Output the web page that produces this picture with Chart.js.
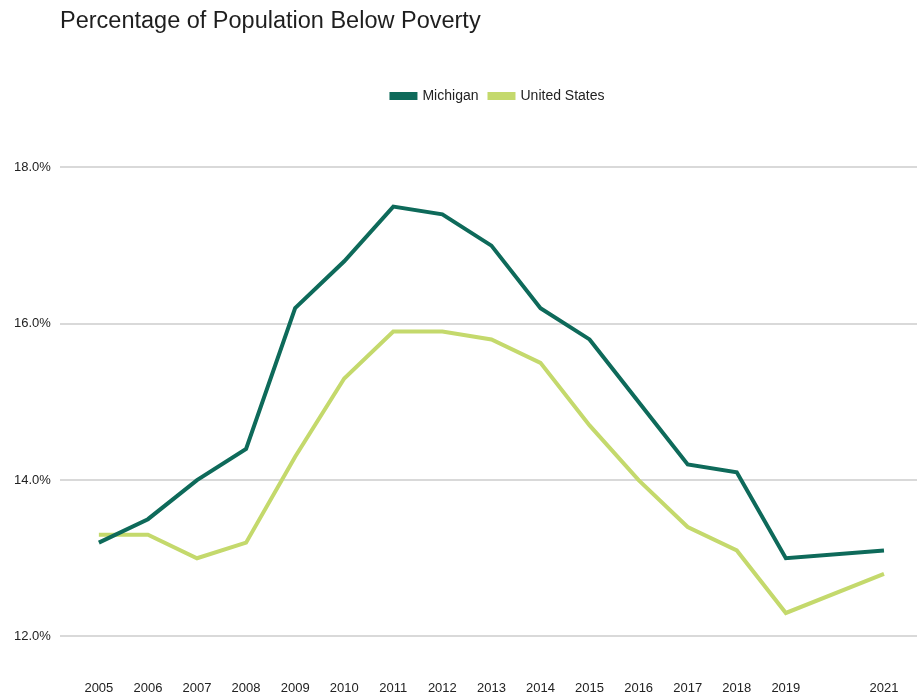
<!DOCTYPE html>
<html>
<head>
<meta charset="utf-8">
<script src="https://cdn.jsdelivr.net/npm/chart.js@4"></script>
<style>
  html, body { margin: 0; padding: 0; background: #fff; }
  #wrap { position: relative; width: 917px; height: 698px; }
  #title {
    position: absolute; left: 60px; top: 7px;
    font-family: "Liberation Sans", Arial, sans-serif;
    font-size: 23.5px; color: #1e1e1e;
  }
</style>
</head>
<body>
<div id="wrap">
  <div id="title">Percentage of Population Below Poverty</div>
  <canvas id="povertyChart" width="917" height="698"></canvas>
</div>
<script>
const years = [2005, 2006, 2007, 2008, 2009, 2010, 2011, 2012, 2013, 2014, 2015, 2016, 2017, 2018, 2019, 2021];
const michigan = [13.2, 13.5, 14.0, 14.4, 16.2, 16.8, 17.5, 17.4, 17.0, 16.2, 15.8, 15.0, 14.2, 14.1, 13.0, 13.1];
const unitedStates = [13.3, 13.3, 13.0, 13.2, 14.3, 15.3, 15.9, 15.9, 15.8, 15.5, 14.7, 14.0, 13.4, 13.1, 12.3, 12.8];
const yTicks = [12, 14, 16, 18];

const toPoints = vals => years.map((y, i) => ({ x: y, y: vals[i] }));
const font = { family: '"Liberation Sans", Arial, sans-serif', size: 13 };

// the legend sits a bit right of the canvas centre in the original
const legendShift = {
  id: 'legendShift',
  afterLayout(chart) {
    chart.legend.left += 37;
    chart.legend.right += 37;
  }
};

const ctx = document.getElementById('povertyChart');

new Chart(ctx, {
  type: 'line',
  data: {
    datasets: [{
      label: 'Michigan',
      data: toPoints(michigan),
      borderColor: '#0e6a5a',
      backgroundColor: '#0e6a5a',
      borderWidth: 4,
      pointRadius: 0,
      tension: 0
    }, {
      label: 'United States',
      data: toPoints(unitedStates),
      borderColor: '#c4d96c',
      backgroundColor: '#c4d96c',
      borderWidth: 4,
      pointRadius: 0,
      tension: 0
    }]
  },
  plugins: [legendShift],
  options: {
    responsive: false,
    animation: false,
    layout: { padding: { top: 78, left: 5, right: 0, bottom: -14 } },
    plugins: {
      legend: {
        position: 'top',
        labels: {
          boxWidth: 24,
          boxHeight: 4,
          padding: 11,
          color: '#222',
          font: { family: font.family, size: 14 }
        }
      },
      tooltip: { enabled: false }
    },
    scales: {
      x: {
        type: 'linear',
        min: 2004.205,
        max: 2021.673,
        afterBuildTicks: axis => { axis.ticks = years.map(v => ({ value: v })); },
        ticks: {
          color: '#222',
          font: font,
          padding: 16,
          maxRotation: 0,
          autoSkip: false,
          callback: v => String(v)
        },
        grid: { display: false, drawTicks: false },
        border: { display: false }
      },
      y: {
        min: 11.642,
        max: 18.697,
        afterBuildTicks: axis => { axis.ticks = yTicks.map(v => ({ value: v })); },
        ticks: {
          color: '#222',
          font: font,
          padding: 9,
          callback: v => v.toFixed(1) + '%'
        },
        grid: { color: '#d9d9d9', lineWidth: 2, drawTicks: false },
        border: { display: false }
      }
    }
  }
});
</script>
</body>
</html>
